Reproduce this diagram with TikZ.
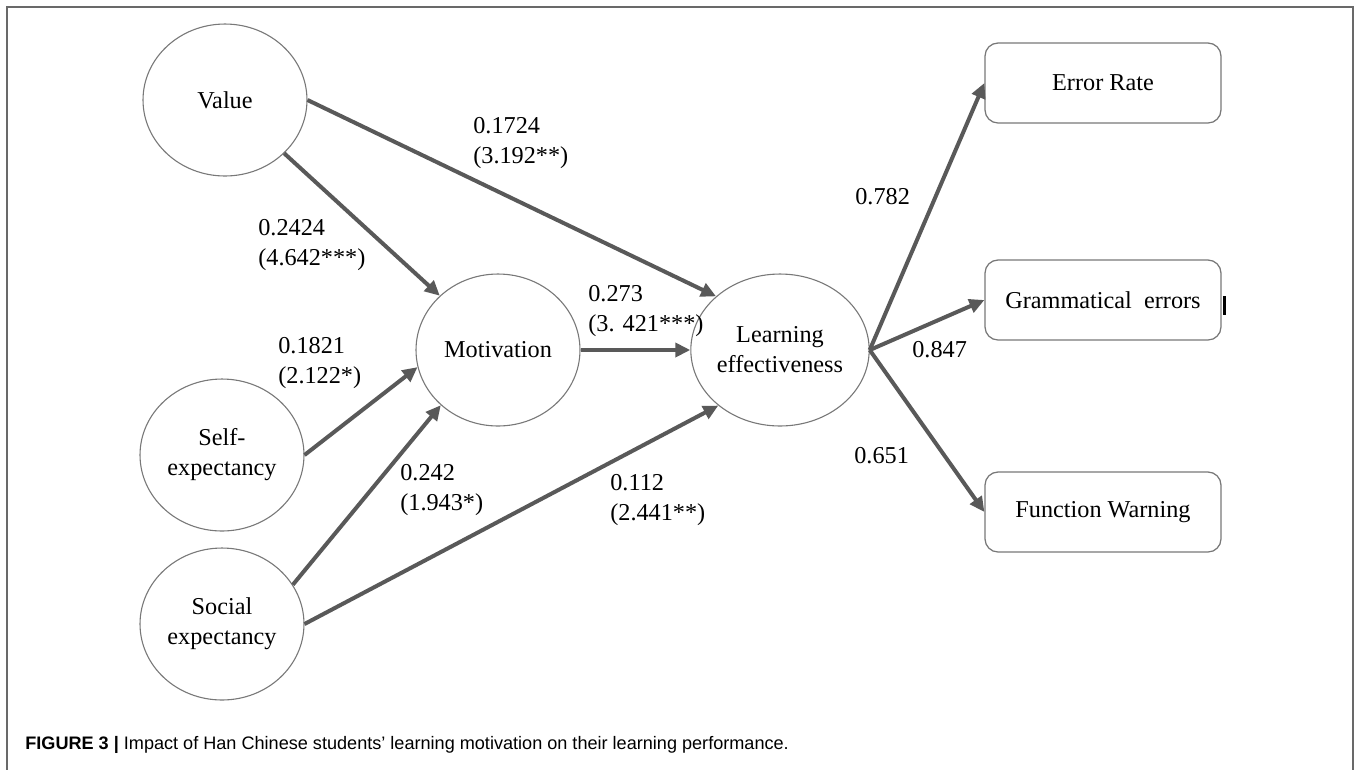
\documentclass[tikz,border=0pt]{standalone}
\usepackage{fontspec}
\setmainfont{Liberation Serif}
\setsansfont{Liberation Sans}
\usepackage{tikz}
\usetikzlibrary{positioning}
\usetikzlibrary{shapes.geometric}
\usetikzlibrary{arrows.meta}
\definecolor{arrowcol}{RGB}{89,89,89}
\definecolor{edgecol}{RGB}{120,120,120}
\definecolor{framecol}{RGB}{105,105,105}
\tikzset{>={Triangle[length=0.3cm,width=0.28cm]}}

\begin{document}
\begin{tikzpicture}[x=0.02cm, y=-0.02cm,
  font=\fontsize{13.8}{17}\selectfont,
  latent/.style={ellipse, draw=edgecol, line width=0.022cm, minimum width=3.28cm, minimum height=3.04cm, inner sep=0pt, align=center},
  indicator/.style={rectangle, rounded corners=0.26cm, draw=edgecol, line width=0.025cm, minimum width=4.72cm, minimum height=1.6cm, align=center},
  effect/.style={->, draw=arrowcol, line width=0.08cm},
  coef/.style={anchor=base west, align=left, inner sep=0pt}]

\useasboundingbox (0,0) rectangle (1360,769);

% Frame
\draw[framecol, line width=0.04cm] (7,790) -- (7,7) -- (1353,7) -- (1353,790);

% Latent variables
\node[latent] (value) at (225,100) {Value};
\node[latent] (self) at (222,455) {Self-\\expectancy};
\node[latent] (social) at (222,624) {Social\\expectancy};
\node[latent] (motiv) at (498,350) {Motivation};
\node[latent] (learn) at (780,350) {Learning\\effectiveness};

% Indicators
\node[indicator] (err) at (1103,83) {Error Rate};
\node[indicator] (gram) at (1103,300) {Grammatical\ \ errors};
\node[indicator] (warn) at (1103,512) {Function Warning};

% stray mark at the right of the middle box
\draw[black, line width=0.06cm] (1224,296) -- (1224,315);

% Paths
\draw[effect] (value.0) -- (learn.140);
\draw[effect] (value.-42) -- (motiv.137);
\draw[effect] (motiv.0) -- (learn.180);
\draw[effect] (self.0) -- (motiv.192);
\draw[effect] (social.29) -- (motiv.224);
\draw[effect] (social.0) -- (learn.222);

% Loadings
\draw[effect] (learn.0) -- (err.west);
\draw[effect] (learn.0) -- (gram.west);
\draw[effect] (learn.0) -- (warn.west);

% Coefficients (base = second line)
\node[coef] (c1) at (473,163) {0.1724\\(3.192**)};
\node[coef] (c2) at (258,265) {0.2424\\(4.642***)};
\node[coef] (c3) at (588,331) {0.273\\(3. 421***)};
\node[coef] (c4) at (278,383) {0.1821\\(2.122*)};
\node[coef] (c5) at (400,510) {0.242\\(1.943*)};
\node[coef] (c6) at (610,520) {0.112\\(2.441**)};
\node[coef] (l1) at (855,204) {0.782};
\node[coef] (l2) at (912,357) {0.847};
\node[coef] (l3) at (854,463) {0.651};

% Caption
\node[anchor=base west, inner sep=0pt, font=\sffamily\fontsize{10.3}{12}\selectfont] (caption) at (25,749)
  {\textbf{FIGURE 3 |} Impact of Han Chinese students' learning motivation on their learning performance.};

\end{tikzpicture}
\end{document}
